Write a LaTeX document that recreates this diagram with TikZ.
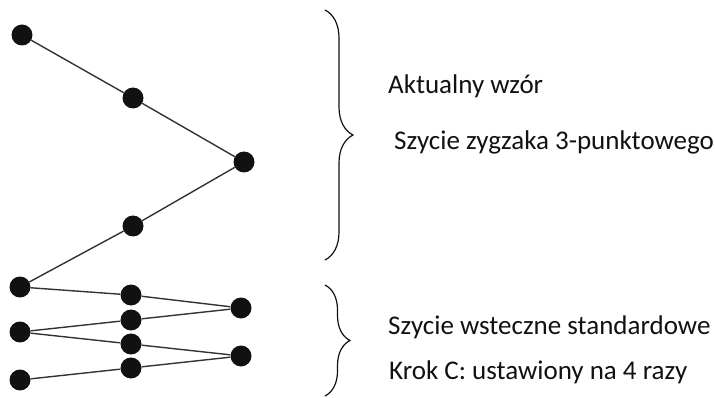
\documentclass[tikz,border=0pt]{standalone}
\usepackage{fontspec}
\setmainfont{Carlito}
\usetikzlibrary{decorations.pathreplacing}
\definecolor{ink}{HTML}{111111}
\definecolor{thread}{HTML}{333333}

\begin{document}
\begin{tikzpicture}[
  x=1pt,
  y=-1pt,
  dot/.style={circle, fill=ink, minimum size=21pt, inner sep=0pt},
  thread/.style={draw=thread, line width=1.4pt},
  bracket/.style={draw=ink, line width=1.2pt,
    decorate, decoration={brace, amplitude=#1}},
  caption/.style={anchor=base west, inner sep=0pt, text=ink,
    font=\fontsize{27}{32}\selectfont}
]
  \useasboundingbox (0,0) rectangle (715,398);

  % 3-point zigzag, current pattern.
  \node[dot] (z1) at (22,35) {};
  \node[dot] (z2) at (133,98) {};
  \node[dot] (z3) at (244,162) {};
  \node[dot] (z4) at (133,226) {};
  \node[dot] (z5) at (20,287) {};
  \draw[thread] (z1) -- (z2) -- (z3) -- (z4) -- (z5);

  % Standard reverse stitch, step C set to 4.
  \foreach \n/\x/\y in {1/131/295, 2/241/308, 3/131/320, 4/20/332,
                        5/131/344, 6/241/356, 7/131/368, 8/20/380}
    \node[dot] (w\n) at (\x,\y) {};
  \draw[thread] (z5) -- (w1) -- (w2) -- (w3) -- (w4)
    -- (w5) -- (w6) -- (w7) -- (w8);

  % Braces.
  \draw[bracket=28] (325,10) -- (325,260);
  \draw[bracket=25] (325,285) -- (325,396);

  % Captions.
  \node[caption] (aktualny) at (388,94) {Aktualny wzór};
  \node[caption] (zygzak) at (394,150) {Szycie zygzaka 3-punktowego};
  \node[caption] (wsteczne) at (388,334) {Szycie wsteczne standardowe};
  \node[caption] (krok) at (389,379) {Krok C: ustawiony na 4 razy};

\end{tikzpicture}
\end{document}
